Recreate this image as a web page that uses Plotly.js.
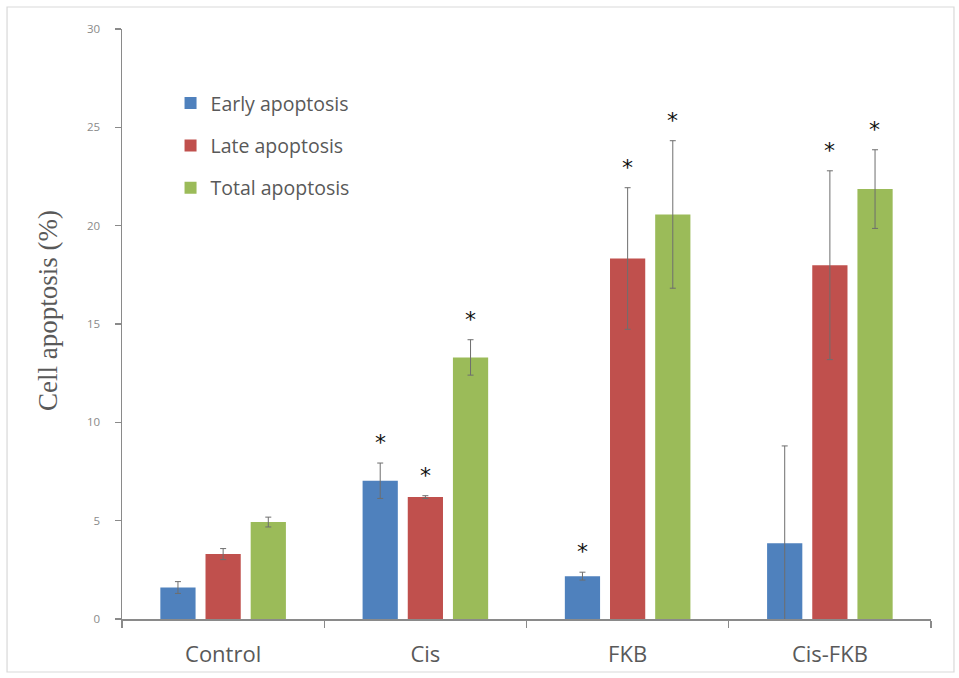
<!DOCTYPE html>
<html>
<head>
<meta charset="utf-8">
<script src="https://cdn.plot.ly/plotly-3.0.1.min.js"></script>
<style>
  html, body { margin: 0; padding: 0; background: #ffffff; }
  #chart { width: 959px; height: 678px; }
</style>
</head>
<body>
<div id="chart"></div>
<script>
// Treatment groups along the x axis
const groups = ["Control", "Cis", "FKB", "Cis-FKB"];

// Mean apoptosis rate (%) per group
const earlyMean = [1.6, 7.03, 2.18, 3.85];
const lateMean  = [3.3, 6.2, 18.33, 17.99];
const totalMean = [4.93, 13.3, 20.57, 21.86];

// Error bar half-lengths (%)
const earlyErr = [0.3, 0.9, 0.2, 4.95];
const lateErr  = [0.28, 0.07, 3.6, 4.8];
const totalErr = [0.25, 0.9, 3.75, 2.0];

// Significance flags (true -> asterisk above the bar)
const earlySig = [false, true, true, false];
const lateSig  = [false, true, true, true];
const totalSig = [false, true, true, true];

const seriesNames = ["Early apoptosis", "Late apoptosis", "Total apoptosis"];
const yTicks = [0, 5, 10, 15, 20, 25, 30];
const yTitle = "Cell apoptosis (%)";

const colors = ["#4F81BD", "#C0504D", "#9BBB59"];
const means = [earlyMean, lateMean, totalMean];
const errs = [earlyErr, lateErr, totalErr];
const sigs = [earlySig, lateSig, totalSig];

const traces = means.map((m, i) => ({
  type: "bar",
  name: seriesNames[i],
  x: groups,
  y: m,
  legendgroup: "g" + i,
  marker: { color: colors[i], line: { width: 0 } },
  error_y: {
    type: "data",
    array: errs[i],
    visible: true,
    color: "#6e6e6e",
    thickness: 1,
    width: 3
  },
  hoverinfo: "x+y"
}));

// Pixel offset of each series' bar centre within its group
const slotShift = [-45, 0, 45];
const annotations = [];
sigs.forEach((flags, i) => {
  flags.forEach((f, j) => {
    if (!f) return;
    annotations.push({
      x: groups[j],
      y: means[i][j] + errs[i][j],
      xref: "x",
      yref: "y",
      xshift: slotShift[i],
      yshift: 6,
      yanchor: "bottom",
      text: "*",
      showarrow: false,
      font: { family: "DejaVu Sans, sans-serif", size: 22, color: "#111111" }
    });
  });
});

// Vertical axis title, set slightly above the axis midpoint
annotations.push({
  xref: "paper",
  yref: "paper",
  x: -0.0915,
  y: 0.5237,
  xanchor: "center",
  yanchor: "middle",
  textangle: -90,
  text: yTitle,
  showarrow: false,
  font: { family: "'Liberation Serif', 'DejaVu Serif', serif", size: 27, color: "#595959" }
});

const layout = {
  width: 959,
  height: 678,
  paper_bgcolor: "#ffffff",
  plot_bgcolor: "#ffffff",
  margin: { l: 122, r: 28, t: 29, b: 59 },
  barmode: "group",
  bargap: 0.33,
  bargroupgap: 0.22,
  showlegend: true,
  legend: {
    x: 0.06,
    y: 0.907,
    xanchor: "left",
    yanchor: "top",
    bgcolor: "rgba(0,0,0,0)",
    tracegroupgap: 14,
    itemwidth: 30,
    font: { family: "'Open Sans', sans-serif", size: 19.5, color: "#595959" }
  },
  xaxis: {
    type: "category",
    showgrid: false,
    zeroline: false,
    showline: true,
    linecolor: "#8a8a8a",
    linewidth: 1.5,
    ticks: "outside",
    tickson: "boundaries",
    ticklen: 7,
    tickcolor: "#8a8a8a",
    tickwidth: 1.2,
    ticklabelstandoff: 15,
    tickfont: { family: "'Open Sans', sans-serif", size: 22, color: "#595959" },
    fixedrange: true
  },
  yaxis: {
    range: [0, 30],
    tickvals: yTicks,
    ticktext: yTicks.map(String),
    showgrid: false,
    zeroline: false,
    showline: true,
    linecolor: "#8a8a8a",
    linewidth: 1.5,
    ticks: "outside",
    ticklen: 6,
    tickcolor: "#8a8a8a",
    tickwidth: 1.2,
    ticklabelstandoff: 12,
    tickfont: { family: "'Open Sans', sans-serif", size: 11.5, color: "#8a8a8a" },
    fixedrange: true
  },
  annotations: annotations,
  shapes: [{
    type: "rect",
    xref: "paper",
    yref: "paper",
    x0: -0.1421, x1: 1.0284,
    y0: -0.0898, y1: 1.0373,
    line: { color: "#d9d9d9", width: 1.2 },
    fillcolor: "rgba(0,0,0,0)",
    layer: "below"
  }]
};

Plotly.newPlot("chart", traces, layout, { displayModeBar: false, staticPlot: true });
</script>
</body>
</html>
